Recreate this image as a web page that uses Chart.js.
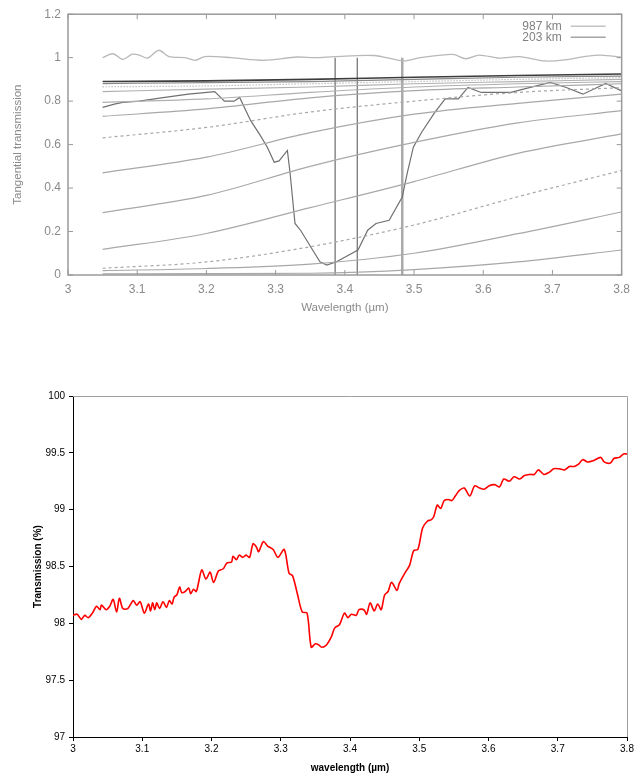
<!DOCTYPE html>
<html>
<head>
<meta charset="utf-8">
<script src="https://cdn.jsdelivr.net/npm/chart.js@4.4.1/dist/chart.umd.min.js"></script>
<style>
  html, body { margin: 0; padding: 0; background: #fff; }
  #chart-top { position: absolute; left: 0; top: 0; }
  #chart-bottom { position: absolute; left: 0; top: 370px; }
</style>
</head>
<body>
<canvas id="chart-top" width="637" height="330"></canvas>
<canvas id="chart-bottom" width="637" height="406"></canvas>
<script>
// ---- top chart (tangential transmission) ----
const fanX = [3.05, 3.2, 3.35, 3.5, 3.65, 3.8];
const lineA = [0.005, 0.006, 0.008, 0.025, 0.06, 0.115];
const lineB = [0.02, 0.03, 0.05, 0.1, 0.19, 0.29];
const lineC = [0.031, 0.06, 0.13, 0.23, 0.36, 0.481];   // dashed
const lineD = [0.118, 0.191, 0.31, 0.43, 0.56, 0.649];
const lineE = [0.287, 0.366, 0.5, 0.61, 0.7, 0.756];
const lineF = [0.47, 0.542, 0.655, 0.74, 0.79, 0.832];
const lineG = [0.631, 0.679, 0.75, 0.8, 0.84, 0.862];   // dashed
const lineH = [0.73, 0.764, 0.815, 0.848, 0.865, 0.88];
const lineI = [0.794, 0.81, 0.84, 0.865, 0.88, 0.89];
const lineJ = [0.844, 0.855, 0.865, 0.88, 0.89, 0.9];
const lineK = [0.866, 0.87, 0.88, 0.89, 0.9, 0.908];    // dotted
const lineL = [0.881, 0.885, 0.89, 0.9, 0.91, 0.915];
const lineM = [0.89, 0.893, 0.9, 0.91, 0.918, 0.925];

const wave987 = [
  [3.05, 1.0], [3.065, 1.018], [3.079, 0.992], [3.093, 1.016], [3.103, 1.012],
  [3.115, 0.998], [3.131, 1.034], [3.146, 1.005], [3.169, 1.0], [3.184, 0.988],
  [3.198, 1.005], [3.236, 1.0], [3.283, 0.988], [3.331, 1.003], [3.357, 1.0],
  [3.385, 1.005], [3.442, 1.01], [3.485, 0.985], [3.509, 1.0], [3.556, 1.015],
  [3.575, 0.995], [3.594, 1.012], [3.623, 0.998], [3.652, 1.005], [3.689, 0.985],
  [3.718, 0.99], [3.746, 1.005], [3.77, 1.012], [3.799, 1.002]
];

const dipSpectrum = [
  [3.05, 0.771], [3.067, 0.786], [3.079, 0.794], [3.103, 0.8], [3.14, 0.817],
  [3.174, 0.832], [3.212, 0.844], [3.226, 0.8], [3.24, 0.8], [3.248, 0.817],
  [3.264, 0.71], [3.278, 0.641], [3.288, 0.588], [3.298, 0.519], [3.305, 0.525],
  [3.317, 0.573], [3.321, 0.466], [3.328, 0.237], [3.336, 0.206], [3.364, 0.061],
  [3.374, 0.046], [3.388, 0.061], [3.419, 0.115], [3.433, 0.206], [3.445, 0.237],
  [3.464, 0.252], [3.483, 0.359], [3.49, 0.466], [3.499, 0.588], [3.511, 0.657],
  [3.53, 0.748], [3.545, 0.81], [3.564, 0.81], [3.578, 0.863], [3.597, 0.84],
  [3.64, 0.84], [3.668, 0.863], [3.697, 0.886], [3.72, 0.863], [3.744, 0.832],
  [3.777, 0.881], [3.8, 0.847]
];

const markerLines = [3.386, 3.418, 3.483];
const legendLabels = ['987 km', '203 km'];

// ---- bottom chart (transmission %) ----
const redSpectrum = [
  [3.000, 98.07], [3.006, 98.08], [3.012, 98.035], [3.017, 98.07], [3.022, 98.05],
  [3.028, 98.09], [3.034, 98.15], [3.039, 98.12], [3.041, 98.16], [3.048, 98.12],
  [3.053, 98.15], [3.058, 98.21], [3.063, 98.10], [3.067, 98.22], [3.072, 98.13],
  [3.079, 98.13], [3.087, 98.20], [3.092, 98.16], [3.097, 98.19], [3.103, 98.09],
  [3.109, 98.17], [3.112, 98.11], [3.115, 98.18], [3.118, 98.12], [3.121, 98.18],
  [3.125, 98.13], [3.130, 98.19], [3.135, 98.14], [3.139, 98.20], [3.143, 98.17],
  [3.146, 98.23], [3.150, 98.25], [3.154, 98.32], [3.157, 98.27], [3.162, 98.28],
  [3.167, 98.31], [3.170, 98.26], [3.174, 98.30], [3.178, 98.28], [3.181, 98.35],
  [3.186, 98.47], [3.192, 98.39], [3.198, 98.45], [3.203, 98.36], [3.210, 98.46],
  [3.217, 98.48], [3.222, 98.53], [3.229, 98.54], [3.231, 98.59], [3.236, 98.56],
  [3.240, 98.60], [3.245, 98.58], [3.250, 98.60], [3.255, 98.58], [3.260, 98.70],
  [3.265, 98.67], [3.268, 98.63], [3.275, 98.72], [3.281, 98.68], [3.289, 98.65],
  [3.296, 98.58], [3.305, 98.65], [3.312, 98.44], [3.317, 98.42], [3.324, 98.26],
  [3.331, 98.10], [3.338, 98.09], [3.344, 97.79], [3.350, 97.82], [3.355, 97.81],
  [3.359, 97.79], [3.366, 97.81], [3.373, 97.88], [3.378, 97.96], [3.385, 97.99],
  [3.392, 98.09], [3.397, 98.05], [3.402, 98.08], [3.409, 98.07], [3.413, 98.12],
  [3.420, 98.12], [3.424, 98.08], [3.429, 98.18], [3.435, 98.11], [3.440, 98.17],
  [3.445, 98.12], [3.450, 98.25], [3.455, 98.28], [3.460, 98.36], [3.468, 98.29],
  [3.471, 98.35], [3.479, 98.44], [3.486, 98.51], [3.492, 98.64], [3.498, 98.65],
  [3.505, 98.84], [3.512, 98.90], [3.517, 98.91], [3.521, 98.94], [3.526, 99.04],
  [3.531, 99.01], [3.536, 99.08], [3.542, 99.09], [3.547, 99.08], [3.552, 99.12],
  [3.558, 99.17], [3.565, 99.19], [3.573, 99.12], [3.580, 99.21], [3.587, 99.19],
  [3.594, 99.18], [3.601, 99.21], [3.609, 99.22], [3.616, 99.20], [3.622, 99.27],
  [3.630, 99.25], [3.637, 99.29], [3.645, 99.27], [3.652, 99.30], [3.659, 99.31],
  [3.666, 99.31], [3.672, 99.35], [3.680, 99.31], [3.688, 99.33], [3.694, 99.36],
  [3.702, 99.36], [3.710, 99.35], [3.717, 99.38], [3.724, 99.38], [3.730, 99.40],
  [3.736, 99.44], [3.743, 99.42], [3.751, 99.43], [3.762, 99.46], [3.767, 99.42],
  [3.776, 99.41], [3.781, 99.45], [3.789, 99.46], [3.795, 99.49], [3.800, 99.49]
];

const toPts = arr => arr.map(p => ({ x: p[0], y: p[1] }));
const fanPts = vals => vals.map((v, i) => ({ x: fanX[i], y: v }));
// "1", "3.1", "99.5" - no trailing zeros
const plainNum = v => String(Number(Number(v).toFixed(2)));

function fan(label, vals, color, width, dash) {
    return {
        label: label,
        data: fanPts(vals),
        borderColor: color,
        borderWidth: width,
        borderDash: dash || [],
        pointRadius: 0,
        cubicInterpolationMode: 'monotone',
        fill: false
    };
}

const topDatasets = [
    { label: legendLabels[0], data: toPts(wave987), borderColor: '#b8b8b8', borderWidth: 1.3, pointRadius: 0, tension: 0.3 },
    fan(legendLabels[1], lineA, '#a8a8a8', 1.2),
    fan('B', lineB, '#a8a8a8', 1.2),
    fan('C', lineC, '#a8a8a8', 1.2, [3, 3]),
    fan('D', lineD, '#a8a8a8', 1.2),
    fan('E', lineE, '#a8a8a8', 1.2),
    fan('F', lineF, '#a8a8a8', 1.2),
    fan('G', lineG, '#a8a8a8', 1.2, [3, 3]),
    fan('H', lineH, '#a8a8a8', 1.2),
    fan('I', lineI, '#b0b0b0', 1.2),
    fan('J', lineJ, '#b0b0b0', 1.2),
    fan('K', lineK, '#a0a0a0', 1.2, [1, 2]),
    fan('L', lineL, '#888888', 1.2),
    fan('M', lineM, '#3c3c3c', 1.6),
    { label: 'spectrum', data: toPts(dipSpectrum), borderColor: '#707070', borderWidth: 1.2, pointRadius: 0, tension: 0 }
];
markerLines.forEach((w, i) => {
    topDatasets.push({
        label: 'marker' + i,
        data: [{ x: w, y: 0 }, { x: w, y: 1.0 }],
        borderColor: i === 2 ? '#aaaaaa' : '#777777',
        borderWidth: i === 2 ? 2.5 : 1.3,
        pointRadius: 0
    });
});

const topFrame = {
    id: 'topFrame',
    afterDatasetsDraw(chart) {
        const { ctx, chartArea: a, scales: { x, y } } = chart;
        ctx.save();
        ctx.strokeStyle = '#9a9a9a';
        ctx.lineWidth = 1.5;
        ctx.strokeRect(a.left, a.top, a.right - a.left, a.bottom - a.top);
        ctx.lineWidth = 1;
        ctx.beginPath();
        x.ticks.forEach(t => {
            const px = x.getPixelForValue(t.value);
            ctx.moveTo(px, a.bottom); ctx.lineTo(px, a.bottom - 5);
            ctx.moveTo(px, a.top); ctx.lineTo(px, a.top + 5);
        });
        y.ticks.forEach(t => {
            const py = y.getPixelForValue(t.value);
            ctx.moveTo(a.left, py); ctx.lineTo(a.left + 5, py);
            ctx.moveTo(a.right, py); ctx.lineTo(a.right - 5, py);
        });
        ctx.stroke();
        // legend, text left of the sample line
        ctx.font = '12px "Liberation Sans", Arial, sans-serif';
        ctx.fillStyle = '#808080';
        ctx.textAlign = 'right';
        ctx.textBaseline = 'middle';
        const colors = ['#c4c4c4', '#a4a4a4'];
        legendLabels.forEach((txt, i) => {
            const ly = a.top + 12 + i * 11;
            ctx.fillText(txt, a.right - 60, ly);
            ctx.strokeStyle = colors[i];
            ctx.lineWidth = 1.5;
            ctx.beginPath();
            ctx.moveTo(a.right - 51, ly);
            ctx.lineTo(a.right - 16, ly);
            ctx.stroke();
        });
        ctx.restore();
    }
};

const grayFont = { family: '"Liberation Sans", Arial, sans-serif', size: 12 };

new Chart(document.getElementById('chart-top'), {
    type: 'line',
    data: { datasets: topDatasets },
    options: {
        responsive: false,
        animation: false,
        layout: { padding: { top: 13, right: 8, left: 0, bottom: 0 } },
        plugins: { legend: { display: false }, tooltip: { enabled: false } },
        scales: {
            x: {
                type: 'linear', min: 3, max: 3.8,
                ticks: { stepSize: 0.1, color: '#8a8a8a', font: grayFont, padding: 7, callback: plainNum },
                grid: { display: false, drawTicks: false },
                border: { display: false },
                title: { display: true, text: 'Wavelength (µm)', color: '#8a8a8a',
                         font: { family: grayFont.family, size: 11.5 }, padding: { top: 0, bottom: 15 } },
                afterFit: s => { s.height = 55; }
            },
            y: {
                min: 0, max: 1.2,
                ticks: { stepSize: 0.2, color: '#8a8a8a', font: grayFont, padding: 7, callback: plainNum },
                grid: { display: false, drawTicks: false },
                border: { display: false },
                title: { display: true, text: 'Tangential transmission', color: '#8a8a8a',
                         font: { family: grayFont.family, size: 11.5 }, padding: { top: 11, bottom: 0 } },
                afterFit: s => { s.width = 68; }
            }
        }
    },
    plugins: [topFrame]
});

// ---- bottom chart ----
const bottomFrame = {
    id: 'bottomFrame',
    beforeDatasetsDraw(chart) {
        const { ctx, chartArea: a } = chart;
        ctx.save();
        ctx.strokeStyle = '#a0a0a0';
        ctx.lineWidth = 1;
        ctx.beginPath();
        ctx.moveTo(a.left, a.top + 0.5); ctx.lineTo(a.right + 0.5, a.top + 0.5);
        ctx.lineTo(a.right + 0.5, a.bottom);
        ctx.stroke();
        ctx.restore();
    }
};

const blackFont = { family: '"Liberation Sans", Arial, sans-serif', size: 10 };

new Chart(document.getElementById('chart-bottom'), {
    type: 'line',
    data: {
        datasets: [{
            label: 'Transmission',
            data: toPts(redSpectrum),
            borderColor: '#ff0000',
            borderWidth: 1.6,
            pointRadius: 0,
            tension: 0.3
        }]
    },
    options: {
        responsive: false,
        animation: false,
        layout: { padding: { top: 26, right: 10, left: 0, bottom: 0 } },
        plugins: { legend: { display: false }, tooltip: { enabled: false } },
        scales: {
            x: {
                type: 'linear', min: 3, max: 3.8,
                ticks: { stepSize: 0.1, color: '#000', font: blackFont, padding: 2, callback: plainNum },
                grid: { drawOnChartArea: false, drawTicks: true, tickLength: 4, color: '#000' },
                border: { color: '#000', width: 1 },
                title: { display: true, text: 'wavelength (µm)', color: '#000',
                         font: { family: blackFont.family, size: 10, weight: 'bold' }, padding: { top: 0, bottom: 2 } },
                afterFit: s => { s.height = 39; }
            },
            y: {
                min: 97, max: 100,
                ticks: { stepSize: 0.5, color: '#000', font: blackFont, padding: 4, callback: plainNum },
                grid: { drawOnChartArea: false, drawTicks: true, tickLength: 4, color: '#000' },
                border: { color: '#000', width: 1 },
                title: { display: true, text: 'Transmission (%)', color: '#000',
                         font: { family: blackFont.family, size: 10, weight: 'bold' }, padding: { top: 32, bottom: 0 } },
                afterFit: s => { s.width = 73; }
            }
        }
    },
    plugins: [bottomFrame]
});
</script>
</body>
</html>
